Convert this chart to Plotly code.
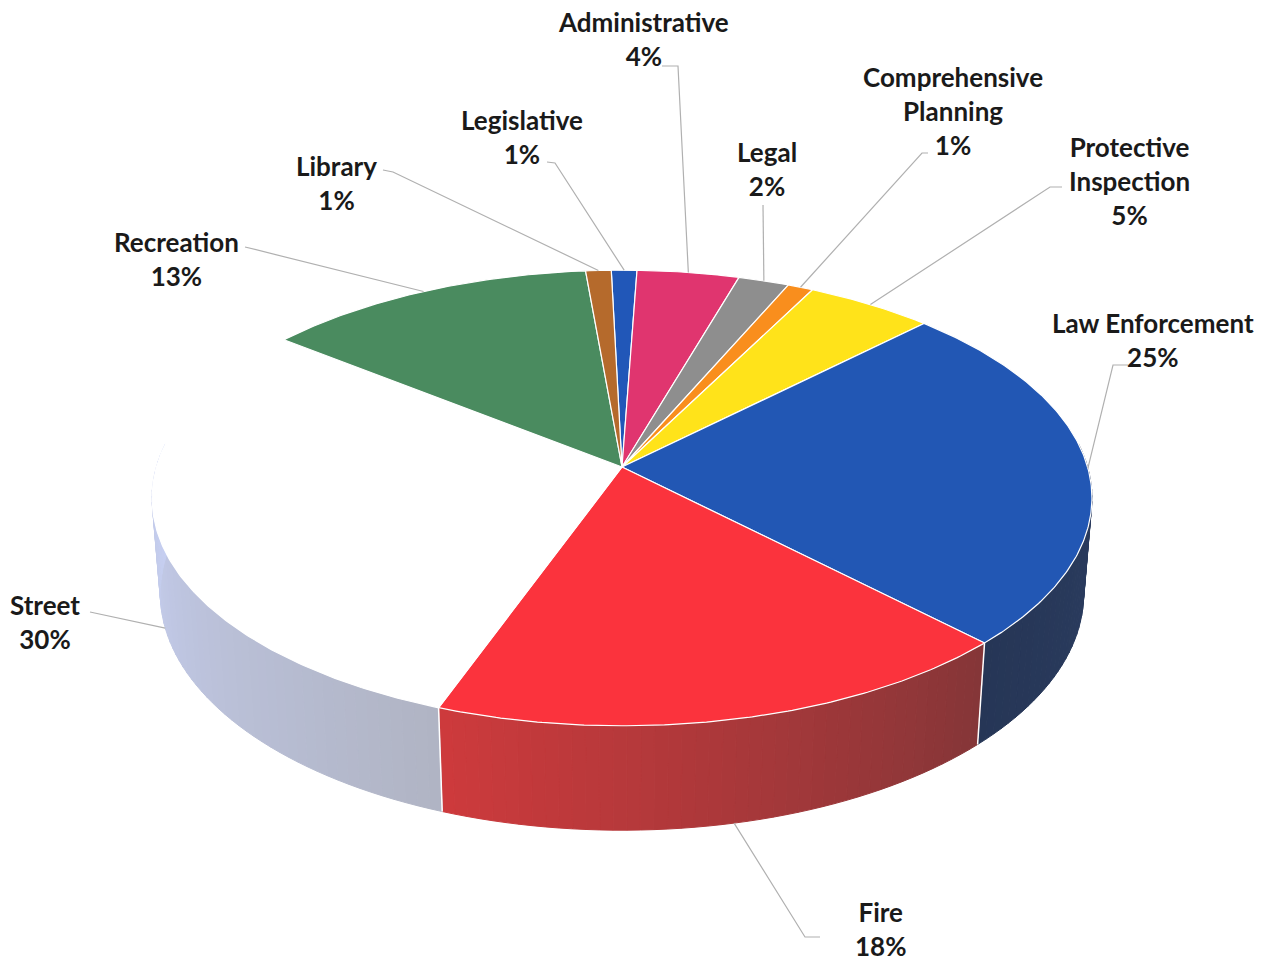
import numpy as np
import plotly.graph_objects as go

# Budget shares by department (percent), in drawing order clockwise from 12 o'clock
categories = ["Legislative", "Administrative", "Legal", "Comprehensive<br>Planning",
              "Protective<br>Inspection", "Law Enforcement", "Fire", "Street",
              "Recreation", "Library"]
shares = [1, 4, 2, 1, 5, 25, 18, 30, 13, 1]

# Top-face colours and side-wall shading (start colour, end colour)
top_colors = ["#2157b8", "#e0356f", "#8e8e8e", "#f98e1d", "#ffe31a",
              "#2257b4", "#fb333d", "#ffffff", "#4a8b5f", "#b56a2c"]
side_colors = [((20, 50, 120), (20, 50, 120)), ((150, 30, 70), (150, 30, 70)),
               ((90, 90, 90), (90, 90, 90)), ((170, 90, 20), (170, 90, 20)),
               ((170, 150, 20), (170, 150, 20)),
               ((44, 62, 98), (38, 54, 86)),
               ((132, 54, 56), (206, 58, 60)),
               ((176, 180, 196), (200, 209, 244)),
               ((40, 90, 55), (40, 90, 55)), ((120, 70, 30), (120, 70, 30))]

# Label placement (text block centre) and leader-line start points
label_pos = [(522, 137), (643, 39), (767, 169), (953, 111), (1129, 181),
             (1153, 340), (880, 929), (45, 622), (176, 259), (336, 183)]
leader_start = [[(547, 162), (555, 163)], [(662, 66), (678, 66)], [(763, 205)],
                [(928, 153), (922, 153)], [(1062, 187), (1050, 187)],
                [(1128, 365), (1113, 365)], [(820, 937), (805, 937)],
                [(90, 612)], [(245, 247)], [(383, 170), (393, 172)]]

W, H = 1271, 961

# Camera / projection set-up for the tilted disc
CX, CY = 622, 467
FOCAL = 3003.0
DIST = 6.45
TILT = np.radians(28.7)
THICK = 0.2366
START = -1.5
ST, CT = np.sin(TILT), np.cos(TILT)


def project(theta_deg, r=1.0, level=0.0):
    th = np.radians(theta_deg)
    yc = r * np.cos(th) * ST - level * THICK * CT
    d = DIST + r * np.cos(th) * CT + level * THICK * ST
    return CX + FOCAL * r * np.sin(th) / d, CY - FOCAL * yc / d


def rgb(c):
    return "rgb(%d,%d,%d)" % tuple(int(round(v)) for v in c)


total = float(sum(shares))
bounds = np.concatenate([[0], np.cumsum(shares)]) / total * 360.0 + START

fig = go.Figure()

# Side walls (front half only), drawn first
VIS0, VIS1 = 84.0, 276.0
for i in range(len(shares)):
    a0, a1 = bounds[i], bounds[i + 1]
    lo, hi = max(a0, VIS0), min(a1, VIS1)
    if hi <= lo:
        continue
    n = max(2, int(np.ceil((hi - lo) / 1.5)))
    edges = np.linspace(lo, hi, n + 1)
    c0, c1 = np.array(side_colors[i][0]), np.array(side_colors[i][1])
    for k in range(n):
        t0, t1 = edges[k], edges[k + 1]
        f = (0.5 * (t0 + t1) - lo) / (hi - lo)
        col = rgb(c0 + (c1 - c0) * f)
        ang = np.linspace(t0, t1, 4)
        xt, yt = project(ang, 1.0, 0.0)
        xb, yb = project(ang[::-1], 1.0, 1.0)
        fig.add_trace(go.Scatter(
            x=np.concatenate([xt, xb, xt[:1]]), y=np.concatenate([yt, yb, yt[:1]]),
            mode="lines", fill="toself", fillcolor=col,
            line=dict(color=col, width=1), hoverinfo="skip", showlegend=False))

# White seams where slices meet on the side wall
for b in bounds:
    bb = (b - START) % 360 + START
    if VIS0 < bb < VIS1:
        x0, y0 = project(bb, 1.0, 0.0)
        x1, y1 = project(bb, 1.0, 1.0)
        fig.add_trace(go.Scatter(x=[x0, x1], y=[y0, y1], mode="lines",
                                 line=dict(color="white", width=1.5),
                                 hoverinfo="skip", showlegend=False))

# Top faces
cx0, cy0 = project(0.0, 0.0, 0.0)
for i in range(len(shares)):
    a0, a1 = bounds[i], bounds[i + 1]
    ang = np.linspace(a0, a1, max(3, int((a1 - a0) / 0.5) + 1))
    xs, ys = project(ang, 1.0, 0.0)
    fig.add_trace(go.Scatter(
        x=np.concatenate([[cx0], xs, [cx0]]), y=np.concatenate([[cy0], ys, [cy0]]),
        mode="lines", fill="toself", fillcolor=top_colors[i],
        line=dict(color="white", width=1.2), hoverinfo="skip", showlegend=False))

# Leader lines and labels
for i in range(len(shares)):
    mid = 0.5 * (bounds[i] + bounds[i + 1])
    front = np.cos(np.radians(mid)) < -0.2
    ax, ay = project(mid, 1.0, 1.0 if front else 0.0)
    pts = leader_start[i] + [(ax, ay)]
    fig.add_trace(go.Scatter(x=[p[0] for p in pts], y=[p[1] for p in pts],
                             mode="lines", line=dict(color="#b0b0b0", width=1.2),
                             hoverinfo="skip", showlegend=False))
    fig.add_annotation(x=label_pos[i][0], y=label_pos[i][1],
                       text="%s<br>%d%%" % (categories[i], shares[i]),
                       showarrow=False, xanchor="center", yanchor="middle",
                       font=dict(family="Lato", size=26, color="#1a1a1a",
                                 weight="bold"))

fig.update_layout(
    width=W, height=H, margin=dict(l=0, r=0, t=0, b=0),
    paper_bgcolor="white", plot_bgcolor="white",
    xaxis=dict(range=[0, W], visible=False, fixedrange=True),
    yaxis=dict(range=[H, 0], visible=False, fixedrange=True),
    showlegend=False,
)

fig.write_html("out.html")
